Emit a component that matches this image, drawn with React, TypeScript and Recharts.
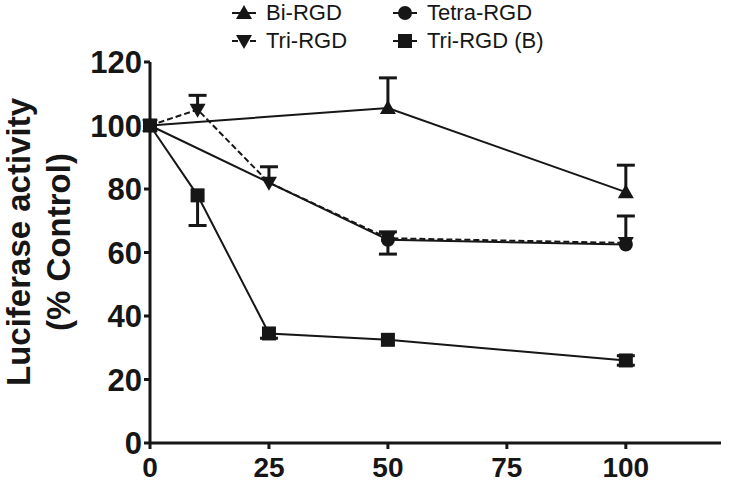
import React from "react";
import { LineChart, Line, XAxis, YAxis } from "recharts";

// concentration (x) and luciferase activity (% control)
const BI_X = [0, 50, 100];
const BI_Y = [100, 105.5, 79];
const BI_ERR_UP = [0, 9.5, 8.5];

const TRI_X = [0, 10, 25, 50, 100];
const TRI_Y = [100, 105, 82, 64.5, 63];
const TRI_ERR_UP = [0, 4.5, 5, 2, 8.5];

const TETRA_X = [0, 50, 100];
const TETRA_Y = [100, 64, 62.5];
const TETRA_ERR_DOWN = [0, 4.5, 0];

const TRIB_X = [0, 10, 25, 50, 100];
const TRIB_Y = [100, 78, 34.5, 32.5, 26];
const TRIB_ERR_DOWN = [0, 9.5, 1.5, 0, 1.5];
const TRIB_ERR_UP = [0, 0, 0, 0, 1.5];

const X_TICKS = [0, 25, 50, 75, 100];
const Y_TICKS = [0, 20, 40, 60, 80, 100, 120];

const INK = "#161616";
const FONT = "'Liberation Sans', Arial, sans-serif";

type Shape = "up" | "down" | "circle" | "square";

const zeros = (n: number) => new Array(n).fill(0);

const SERIES = [
  { name: "Bi-RGD", shape: "up" as Shape, dash: undefined, xs: BI_X, ys: BI_Y, lo: zeros(3), hi: BI_ERR_UP },
  { name: "Tri-RGD", shape: "down" as Shape, dash: "6 3", xs: TRI_X, ys: TRI_Y, lo: zeros(5), hi: TRI_ERR_UP },
  { name: "Tetra-RGD", shape: "circle" as Shape, dash: undefined, xs: TETRA_X, ys: TETRA_Y, lo: TETRA_ERR_DOWN, hi: zeros(3) },
  { name: "Tri-RGD (B)", shape: "square" as Shape, dash: undefined, xs: TRIB_X, ys: TRIB_Y, lo: TRIB_ERR_DOWN, hi: TRIB_ERR_UP },
];

// one tiny two-point segment per one-sided error bar: mean -> mean ± sem
const ERROR_SEGMENTS = SERIES.flatMap((s) =>
  s.xs.flatMap((x, i) => {
    const out: { key: string; data: { x: number; y: number }[] }[] = [];
    if (s.hi[i]) out.push({ key: `${s.name}-hi-${i}`, data: [{ x, y: s.ys[i] }, { x, y: s.ys[i] + s.hi[i] }] });
    if (s.lo[i]) out.push({ key: `${s.name}-lo-${i}`, data: [{ x, y: s.ys[i] }, { x, y: s.ys[i] - s.lo[i] }] });
    return out;
  })
);

function marker(shape: Shape, cx: number, cy: number, key?: string | number) {
  if (shape === "up")
    return <polygon key={key} points={`${cx},${cy - 8} ${cx - 8},${cy + 6} ${cx + 8},${cy + 6}`} fill={INK} />;
  if (shape === "down")
    return <polygon key={key} points={`${cx},${cy + 8} ${cx - 8},${cy - 6} ${cx + 8},${cy - 6}`} fill={INK} />;
  if (shape === "circle") return <circle key={key} cx={cx} cy={cy} r={7} fill={INK} />;
  return <rect key={key} x={cx - 7} y={cy - 7} width={14} height={14} fill={INK} />;
}

const dotFor = (shape: Shape) => (p: any) => marker(shape, p.cx, p.cy, p.index);

const capDot = (p: any) =>
  p.index === 1 ? (
    <line key={p.index} x1={p.cx - 9} x2={p.cx + 9} y1={p.cy} y2={p.cy} stroke={INK} strokeWidth={3} />
  ) : (
    <g key={p.index} />
  );

const YTitle = () => (
  <g fontFamily={FONT} fontWeight="bold" fontSize={33} fill={INK}>
    <text x={30} y={242} transform="rotate(-90 30 242)" textAnchor="middle">
      Luciferase activity
    </text>
    <text x={70} y={242} transform="rotate(-90 70 242)" textAnchor="middle">
      (% Control)
    </text>
  </g>
);

function LegendItem({ s, left, top }: { s: (typeof SERIES)[number]; left: number; top: number }) {
  return (
    <div style={{ position: "absolute", left, top, display: "flex", alignItems: "center", height: 28 }}>
      <svg width={26} height={20}>
        <line x1={1} y1={10} x2={25} y2={10} stroke={INK} strokeWidth={2} strokeDasharray={s.dash} />
        {marker(s.shape, 13, 10)}
      </svg>
      <span style={{ marginLeft: 9, fontFamily: FONT, fontSize: 22, color: INK, lineHeight: "28px" }}>{s.name}</span>
    </div>
  );
}

export default function App() {
  return (
    <div style={{ position: "absolute", left: 0, top: 0, width: 729, height: 483, background: "#fff" }}>
      <LegendItem s={SERIES[0]} left={231} top={-1} />
      <LegendItem s={SERIES[1]} left={231} top={27} />
      <LegendItem s={SERIES[2]} left={392} top={-1} />
      <LegendItem s={SERIES[3]} left={392} top={27} />
      <div style={{ position: "absolute", left: 0, top: 0 }}>
        <LineChart width={729} height={483} margin={{ top: 62, right: 8, bottom: 10, left: 0 }}>
          <XAxis
            type="number"
            dataKey="x"
            domain={[0, 120]}
            ticks={X_TICKS}
            allowDuplicatedCategory={false}
            stroke={INK}
            strokeWidth={3}
            tickSize={6}
            tickMargin={8}
            tick={{ fill: INK, fontFamily: FONT, fontWeight: "bold", fontSize: 28 }}
            height={30}
          />
          <YAxis
            type="number"
            domain={[0, 120]}
            ticks={Y_TICKS}
            width={150}
            stroke={INK}
            strokeWidth={3}
            tickSize={6}
            tick={{ fill: INK, fontFamily: FONT, fontWeight: "bold", fontSize: 31 }}
            label={{ content: <YTitle /> }}
          />
          {ERROR_SEGMENTS.map((e) => (
            <Line
              key={e.key}
              data={e.data}
              dataKey="y"
              stroke={INK}
              strokeWidth={3}
              dot={capDot}
              activeDot={false}
              legendType="none"
              isAnimationActive={false}
            />
          ))}
          {SERIES.map((s) => (
            <Line
              key={s.name}
              data={s.xs.map((x, i) => ({ x, y: s.ys[i] }))}
              dataKey="y"
              name={s.name}
              stroke={INK}
              strokeWidth={2}
              strokeDasharray={s.dash}
              dot={dotFor(s.shape)}
              activeDot={false}
              isAnimationActive={false}
            />
          ))}
        </LineChart>
      </div>
    </div>
  );
}
